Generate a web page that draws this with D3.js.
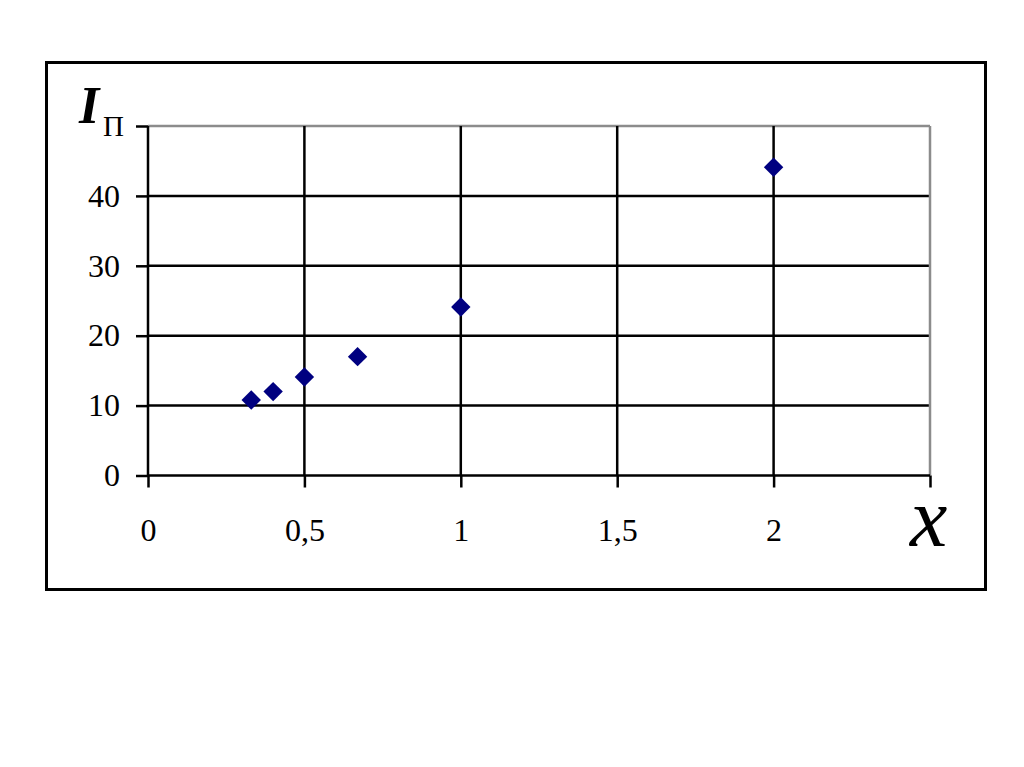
<!DOCTYPE html>
<html>
<head>
<meta charset="utf-8">
<script src="https://cdn.jsdelivr.net/npm/d3@7"></script>
<style>
  body { margin: 0; background: #fff; }
  text { font-family: "Liberation Serif", "Times New Roman", serif; }
</style>
</head>
<body>
<script>
// data
var xValues = [0.33, 0.4, 0.5, 0.67, 1, 2];
var yValues = [10.8, 12.0, 14.1, 17.0, 24.1, 44.1];
var xTicks = [0, 0.5, 1, 1.5, 2, 2.5];
var yTicks = [0, 10, 20, 30, 40, 50];

var width = 1024, height = 767;
var svg = d3.select("body").append("svg")
  .attr("width", width)
  .attr("height", height);

// outer frame
svg.append("rect")
  .attr("x", 46.5).attr("y", 62.5)
  .attr("width", 939).attr("height", 527)
  .attr("fill", "none").attr("stroke", "#000").attr("stroke-width", 3);

var plotLeft = 148, plotRight = 930, plotTop = 126, plotBottom = 475.5;

var xScale = d3.scaleLinear().domain([0, 2.5]).range([plotLeft, plotRight]);
var yScale = d3.scaleLinear().domain([0, 50]).range([plotBottom, plotTop]);

var fmt = function(d) { return String(d).replace(".", ","); };

// horizontal grid
svg.append("g").selectAll("line")
  .data(yTicks.slice(1))
  .enter().append("line")
  .attr("x1", plotLeft).attr("x2", plotRight)
  .attr("y1", function(d) { return yScale(d) }).attr("y2", function(d) { return yScale(d) })
  .attr("stroke", function(d) { return d === 50 ? "#8c8c8c" : "#000" })
  .attr("stroke-width", 2.5);

// vertical grid
svg.append("g").selectAll("line")
  .data(xTicks.slice(1))
  .enter().append("line")
  .attr("x1", function(d) { return xScale(d) }).attr("x2", function(d) { return xScale(d) })
  .attr("y1", plotTop).attr("y2", plotBottom)
  .attr("stroke", function(d) { return d === 2.5 ? "#8c8c8c" : "#000" })
  .attr("stroke-width", 2.5);

// axes
var yAxis = d3.axisLeft(yScale).tickValues(yTicks).tickSize(12).tickPadding(16)
  .tickFormat(function(d) { return d === 50 ? "" : fmt(d) });
var yg = svg.append("g").attr("transform", "translate(" + plotLeft + ",0)").call(yAxis);

var xAxis = d3.axisBottom(xScale).tickValues(xTicks).tickSize(12).tickPadding(31)
  .tickFormat(function(d) { return d === 2.5 ? "" : fmt(d) });
var xg = svg.append("g").attr("transform", "translate(0," + plotBottom + ")").call(xAxis);

[yg, xg].forEach(function(g) {
  g.attr("font-size", null).attr("font-family", null);
  g.select(".domain").attr("stroke", "#000").attr("stroke-width", 2.5);
  g.selectAll(".tick line").attr("stroke", "#000").attr("stroke-width", 2.5);
  g.selectAll(".tick text")
    .attr("fill", "#000")
    .style("font-family", "'Liberation Serif', serif")
    .style("font-size", "32px");
});
yg.select(".domain").attr("d", "M0," + plotTop + "V" + plotBottom);
yg.selectAll(".tick text").attr("dy", "0.32em");
xg.select(".domain").attr("d", "M" + plotLeft + ",0H" + plotRight);

// points
svg.append("g").selectAll("path")
  .data(xValues.map(function(x, i) { return [x, yValues[i]] }))
  .enter().append("path")
  .attr("d", d3.symbol().type(d3.symbolDiamond2).size(240))
  .attr("transform", function(d) { return "translate(" + xScale(d[0]) + "," + yScale(d[1]) + ")" })
  .attr("fill", "#000080");

// axis titles
svg.append("text").attr("x", 79).attr("y", 123).attr("fill", "#000")
  .style("font-style", "italic").style("font-weight", "bold").style("font-size", "52px")
  .text("I");
svg.append("text").attr("x", 103).attr("y", 136).attr("fill", "#000")
  .style("font-size", "29px")
  .text("П");

svg.append("text").attr("x", 910).attr("y", 546)
  .style("font-style", "italic").style("font-size", "84px")
  .attr("fill", "#000").text("x");
</script>
</body>
</html>
